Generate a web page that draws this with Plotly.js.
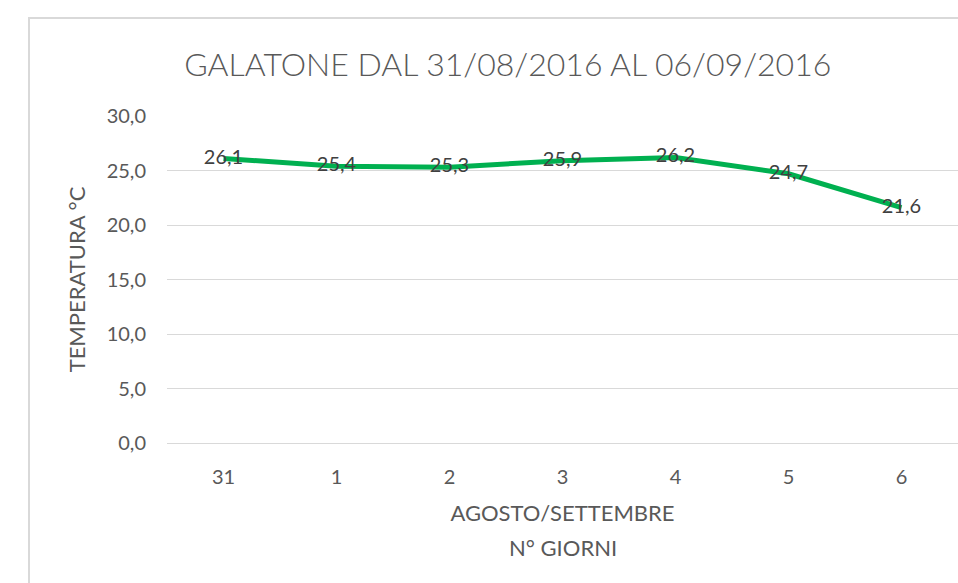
<!DOCTYPE html>
<html>
<head>
<meta charset="utf-8">
<script src="https://cdn.plot.ly/plotly-3.0.1.min.js"></script>
<style>
  html, body { margin: 0; padding: 0; background: #ffffff; }
  #wrap { position: relative; width: 958px; height: 583px; overflow: hidden; }
  #chart { width: 958px; height: 583px; }
  #frame { position: absolute; left: 28px; top: 17px; width: 960px; height: 600px;
           border-left: 2px solid #d9d9d9; border-top: 2px solid #d9d9d9; pointer-events: none; }
</style>
</head>
<body>
<div id="wrap">
  <div id="chart"></div>
  <div id="frame"></div>
</div>
<script>
const days = ["31", "1", "2", "3", "4", "5", "6"];
const temperatures = [26.1, 25.4, 25.3, 25.9, 26.2, 24.7, 21.6];
const chartTitle = "GALATONE DAL 31/08/2016 AL 06/09/2016";
const xTitle = "AGOSTO/SETTEMBRE";
const xTitle2 = "N° GIORNI";
const yTitle = "TEMPERATURA °C";

const FONT = "Lato, 'Open Sans', sans-serif";
const GREY = "#595959";

const trace = {
  type: "scatter",
  mode: "lines+text",
  x: days,
  y: temperatures,
  text: temperatures.map(v => v.toFixed(1).replace(".", ",")),
  textposition: "middle center",
  textfont: { family: FONT, size: 20, color: "#404040" },
  line: { color: "#00B050", width: 5 },
  cliponaxis: false,
  hoverinfo: "x+y"
};

const layout = {
  width: 958,
  height: 583,
  margin: { l: 167, r: 0, t: 116, b: 140 },
  paper_bgcolor: "#ffffff",
  plot_bgcolor: "#ffffff",
  separators: ",.",
  showlegend: false,
  font: { family: FONT, color: GREY },
  title: {
    text: chartTitle,
    font: { family: FONT, size: 32, color: GREY, weight: 300 },
    x: 0.53, xanchor: "center",
    y: 1 - 65 / 583, yanchor: "middle", yref: "container"
  },
  xaxis: {
    type: "category",
    range: [-0.5, 6.5],
    showgrid: false,
    zeroline: false,
    showline: false,
    ticks: "",
    ticklabelstandoff: 20,
    tickfont: { family: FONT, size: 20, color: GREY },
    title: { text: xTitle, font: { family: FONT, size: 22, color: GREY }, standoff: 18 }
  },
  yaxis: {
    range: [0, 30],
    dtick: 5,
    tickformat: ".1f",
    showgrid: true,
    gridcolor: "#d9d9d9",
    gridwidth: 1,
    zeroline: true,
    zerolinecolor: "#d9d9d9",
    zerolinewidth: 1,
    showline: false,
    ticks: "",
    ticklabelstandoff: 20,
    tickfont: { family: FONT, size: 20, color: GREY },
    title: { text: yTitle, font: { family: FONT, size: 22, color: GREY }, standoff: 14 }
  },
  annotations: [{
    text: xTitle2,
    xref: "paper", yref: "paper",
    x: 0.5, y: 0,
    xanchor: "center", yanchor: "middle",
    yshift: -104,
    showarrow: false,
    font: { family: FONT, size: 22, color: GREY }
  }]
};

Plotly.newPlot("chart", [trace], layout, { displayModeBar: false, responsive: false });
</script>
</body>
</html>
